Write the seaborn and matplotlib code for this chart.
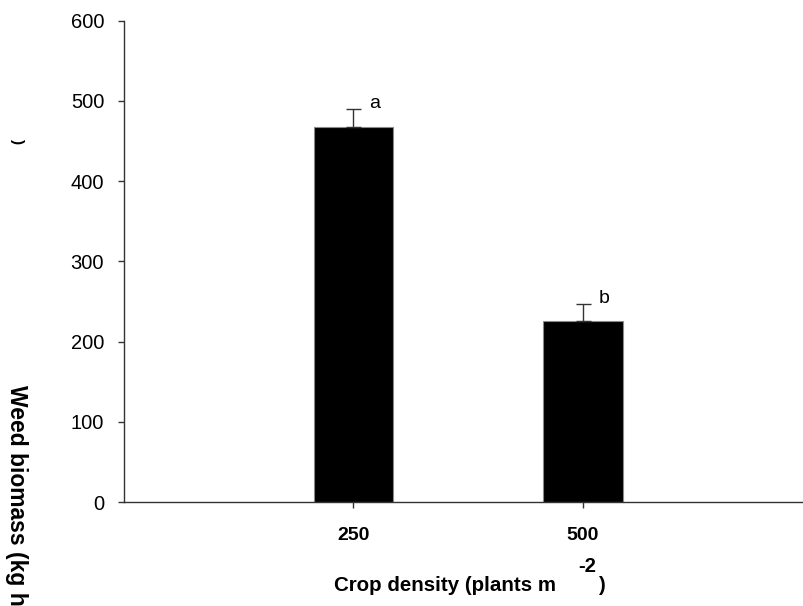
import matplotlib
matplotlib.use("Agg")
import matplotlib.pyplot as plt
import seaborn as sns
import pandas as pd

categories = ["250", "500"]
biomass = [468, 226]
se = [22, 21]
letters = ["a", "b"]
yticks = [0, 100, 200, 300, 400, 500, 600]

sns.set_theme(style="ticks")
plt.rcParams["font.family"] = ["Liberation Sans", "DejaVu Sans"]
plt.rcParams["text.color"] = "black"
plt.rcParams["xtick.color"] = "#333333"
plt.rcParams["ytick.color"] = "#333333"
plt.rcParams["xtick.labelcolor"] = "black"
plt.rcParams["ytick.labelcolor"] = "black"

df = pd.DataFrame({"density": categories, "biomass": biomass})

W, H = 804, 606
fig = plt.figure(figsize=(W / 100, H / 100), dpi=100)
left, right, top, bottom = 124, 812.5, 20.7, 502
ax = fig.add_axes([left / W, 1 - bottom / H, (right - left) / W, (bottom - top) / H])

sns.barplot(data=df, x="density", y="biomass", color="black", width=0.345,
            edgecolor="#8a8a8a", linewidth=0.8, ax=ax, errorbar=None, saturation=1)

for i, (v, e, l) in enumerate(zip(biomass, se, letters)):
    ax.errorbar(i, v, yerr=[[0], [e]], fmt="none", ecolor="#333333", elinewidth=1,
                capsize=5.4, capthick=1)
    ax.text(i + 0.07, v + e + 1, l, fontsize=14, ha="left", va="baseline", color="black")

ax.set_xlim(-1, 2)
ax.set_ylim(0, 600)
ax.set_yticks(yticks)
ax.set_yticklabels([str(t) for t in yticks], fontsize=14.5)
ax.set_xticks([0, 1])
ax.set_xticklabels(categories, fontsize=14, fontweight="bold")
ax.tick_params(axis="x", length=4, width=1, pad=14)
ax.tick_params(axis="y", length=4.3, width=1, pad=10)
for s in ["top", "right"]:
    ax.spines[s].set_visible(False)
for s in ["left", "bottom"]:
    ax.spines[s].set_color("#333333")
    ax.spines[s].set_linewidth(1)
ax.set_xlabel("")
ax.set_ylabel("")

fig.text(334 / W, 1 - 591 / H, "Crop density (plants m", fontsize=14.8, fontweight="bold",
         ha="left", va="baseline")
fig.text(578 / W, 1 - 567 / H, "-2", fontsize=14.5, fontweight="bold", ha="left", va="center")
fig.text(598 / W, 1 - 591 / H, ")", fontsize=14.8, fontweight="bold", ha="left", va="baseline")

fig.text(16 / W, 1 - 385 / H, "Weed biomass (kg ha", fontsize=16.5, fontweight="bold",
         rotation=270, ha="center", va="top")
fig.text(17 / W, 1 - 142 / H, ")", fontsize=11, fontweight="bold",
         rotation=270, ha="center", va="center")

fig.savefig("out.png", dpi=100, facecolor="white")
